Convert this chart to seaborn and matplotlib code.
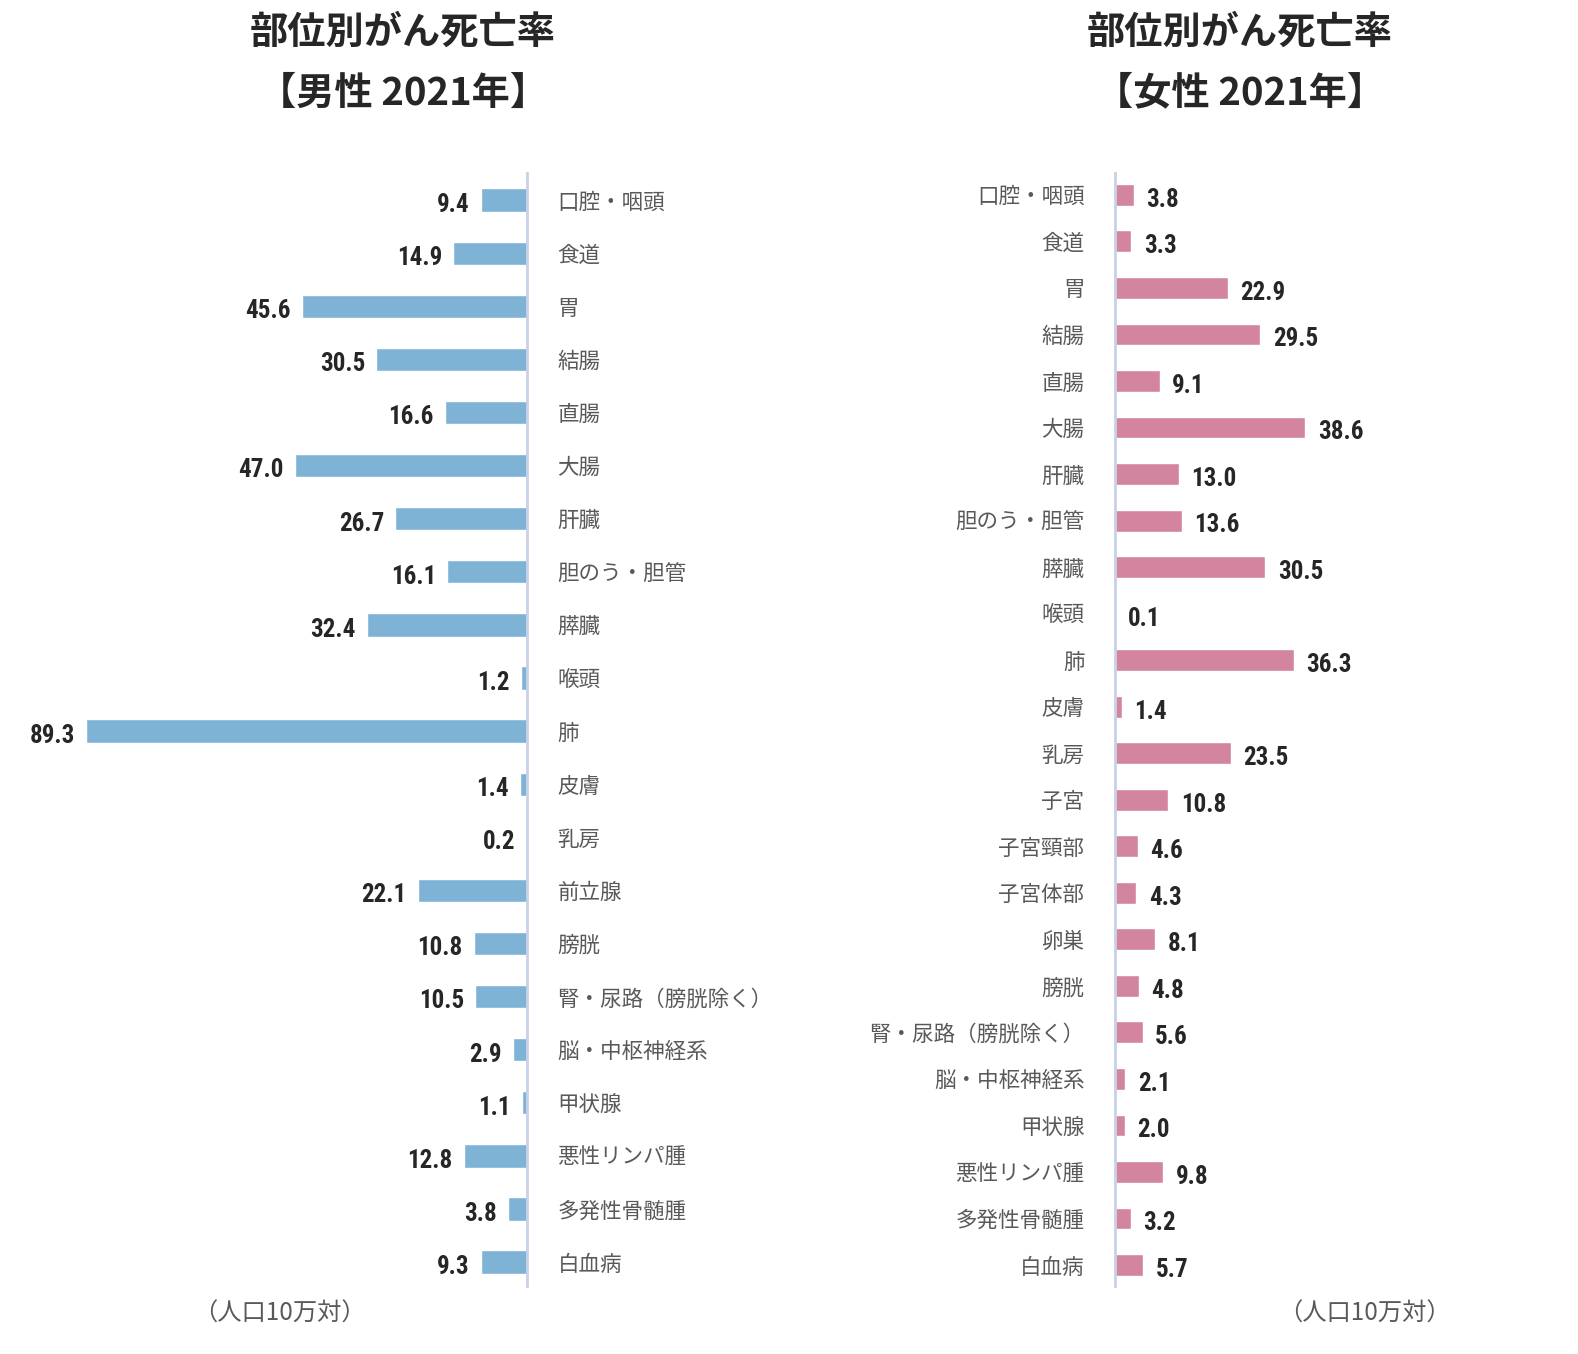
import numpy as np
import matplotlib.pyplot as plt
import seaborn as sns
from matplotlib import font_manager

# male data
male_sites = ["口腔・咽頭", "食道", "胃", "結腸", "直腸", "大腸", "肝臓", "胆のう・胆管", "膵臓", "喉頭",
              "肺", "皮膚", "乳房", "前立腺", "膀胱", "腎・尿路（膀胱除く）", "脳・中枢神経系", "甲状腺",
              "悪性リンパ腫", "多発性骨髄腫", "白血病"]
male_rates = [9.4, 14.9, 45.6, 30.5, 16.6, 47.0, 26.7, 16.1, 32.4, 1.2,
              89.3, 1.4, 0.2, 22.1, 10.8, 10.5, 2.9, 1.1, 12.8, 3.8, 9.3]

# female data
female_sites = ["口腔・咽頭", "食道", "胃", "結腸", "直腸", "大腸", "肝臓", "胆のう・胆管", "膵臓", "喉頭",
                "肺", "皮膚", "乳房", "子宮", "子宮頸部", "子宮体部", "卵巣", "膀胱", "腎・尿路（膀胱除く）",
                "脳・中枢神経系", "甲状腺", "悪性リンパ腫", "多発性骨髄腫", "白血病"]
female_rates = [3.8, 3.3, 22.9, 29.5, 9.1, 38.6, 13.0, 13.6, 30.5, 0.1,
                36.3, 1.4, 23.5, 10.8, 4.6, 4.3, 8.1, 4.8, 5.6, 2.1, 2.0, 9.8, 3.2, 5.7]

sns.set_style("white")
plt.rcParams['font.family'] = ['Noto Sans CJK JP', 'DejaVu Sans']

# narrow font for the numbers if there is one
installed = {f.name for f in font_manager.fontManager.ttflist}
num_font = 'Noto Sans CJK JP'
num_size = 17
for name in ['Liberation Sans Narrow', 'Roboto Condensed', 'DejaVu Sans Condensed']:
    if name in installed:
        num_font = name
        num_size = 18
        break

BLUE = "#7fb3d6"
PINK = "#d3849f"
AXIS = "#c8d2e6"
GRAY = "#595959"

W, H = 1578, 1354
fig = plt.figure(figsize=(W / 100, H / 100), dpi=100)

top, bot = 173, 1286
axL = fig.add_axes([0, 1 - bot / H, 527 / W, (bot - top) / H])
axR = fig.add_axes([1115 / W, 1 - bot / H, (W - 1115) / W, (bot - top) / H])

sns.barplot(x=male_rates, y=male_sites, ax=axL, color=BLUE, saturation=1, width=0.44, orient="h")
sns.barplot(x=female_rates, y=female_sites, ax=axR, color=PINK, saturation=1, width=0.47, orient="h")

axL.set_xlim(106.7, 0)
axR.set_xlim(0, 93.9)
axL.set_ylim(len(male_sites) - 0.55, -0.51)
axR.set_ylim(len(female_sites) - 0.55, -0.47)

for ax in (axL, axR):
    for s in ax.spines.values():
        s.set_visible(False)
    ax.set_xticks([])
    ax.set_xlabel("")
    ax.set_ylabel("")
    ax.tick_params(axis="y", length=0, labelsize=15.5, labelcolor=GRAY, pad=22)

axL.yaxis.tick_right()
for ax, side in ((axL, "right"), (axR, "left")):
    sp = ax.spines[side]
    sp.set_visible(True)
    sp.set_color(AXIS)
    sp.set_linewidth(2)
    sp.set_zorder(5)

for i, v in enumerate(male_rates):
    axL.annotate(f"{v:.1f}", (v, i), xytext=(-8, -3.5), textcoords="offset points",
                 ha="right", va="center", fontsize=num_size, fontweight="bold", family=num_font)
for i, v in enumerate(female_rates):
    axR.annotate(f"{v:.1f}", (v, i), xytext=(9, -3.5), textcoords="offset points",
                 ha="left", va="center", fontsize=num_size, fontweight="bold", family=num_font)

for cx, sex in ((403, "男性"), (1240, "女性")):
    fig.text(cx / W, 1 - 32 / H, "部位別がん死亡率", ha="center", va="center",
             fontsize=27.5, fontweight="bold")
    fig.text(cx / W, 1 - 93 / H, f"【{sex} 2021年】", ha="center", va="center",
             fontsize=27.5, fontweight="bold")

fig.text(279 / W, 1 - 1314 / H, "（人口10万対）", ha="center", va="center", fontsize=17.5, color=GRAY)
fig.text(1364 / W, 1 - 1314 / H, "（人口10万対）", ha="center", va="center", fontsize=17.5, color=GRAY)

fig.savefig("out.png", dpi=100, facecolor="white")
